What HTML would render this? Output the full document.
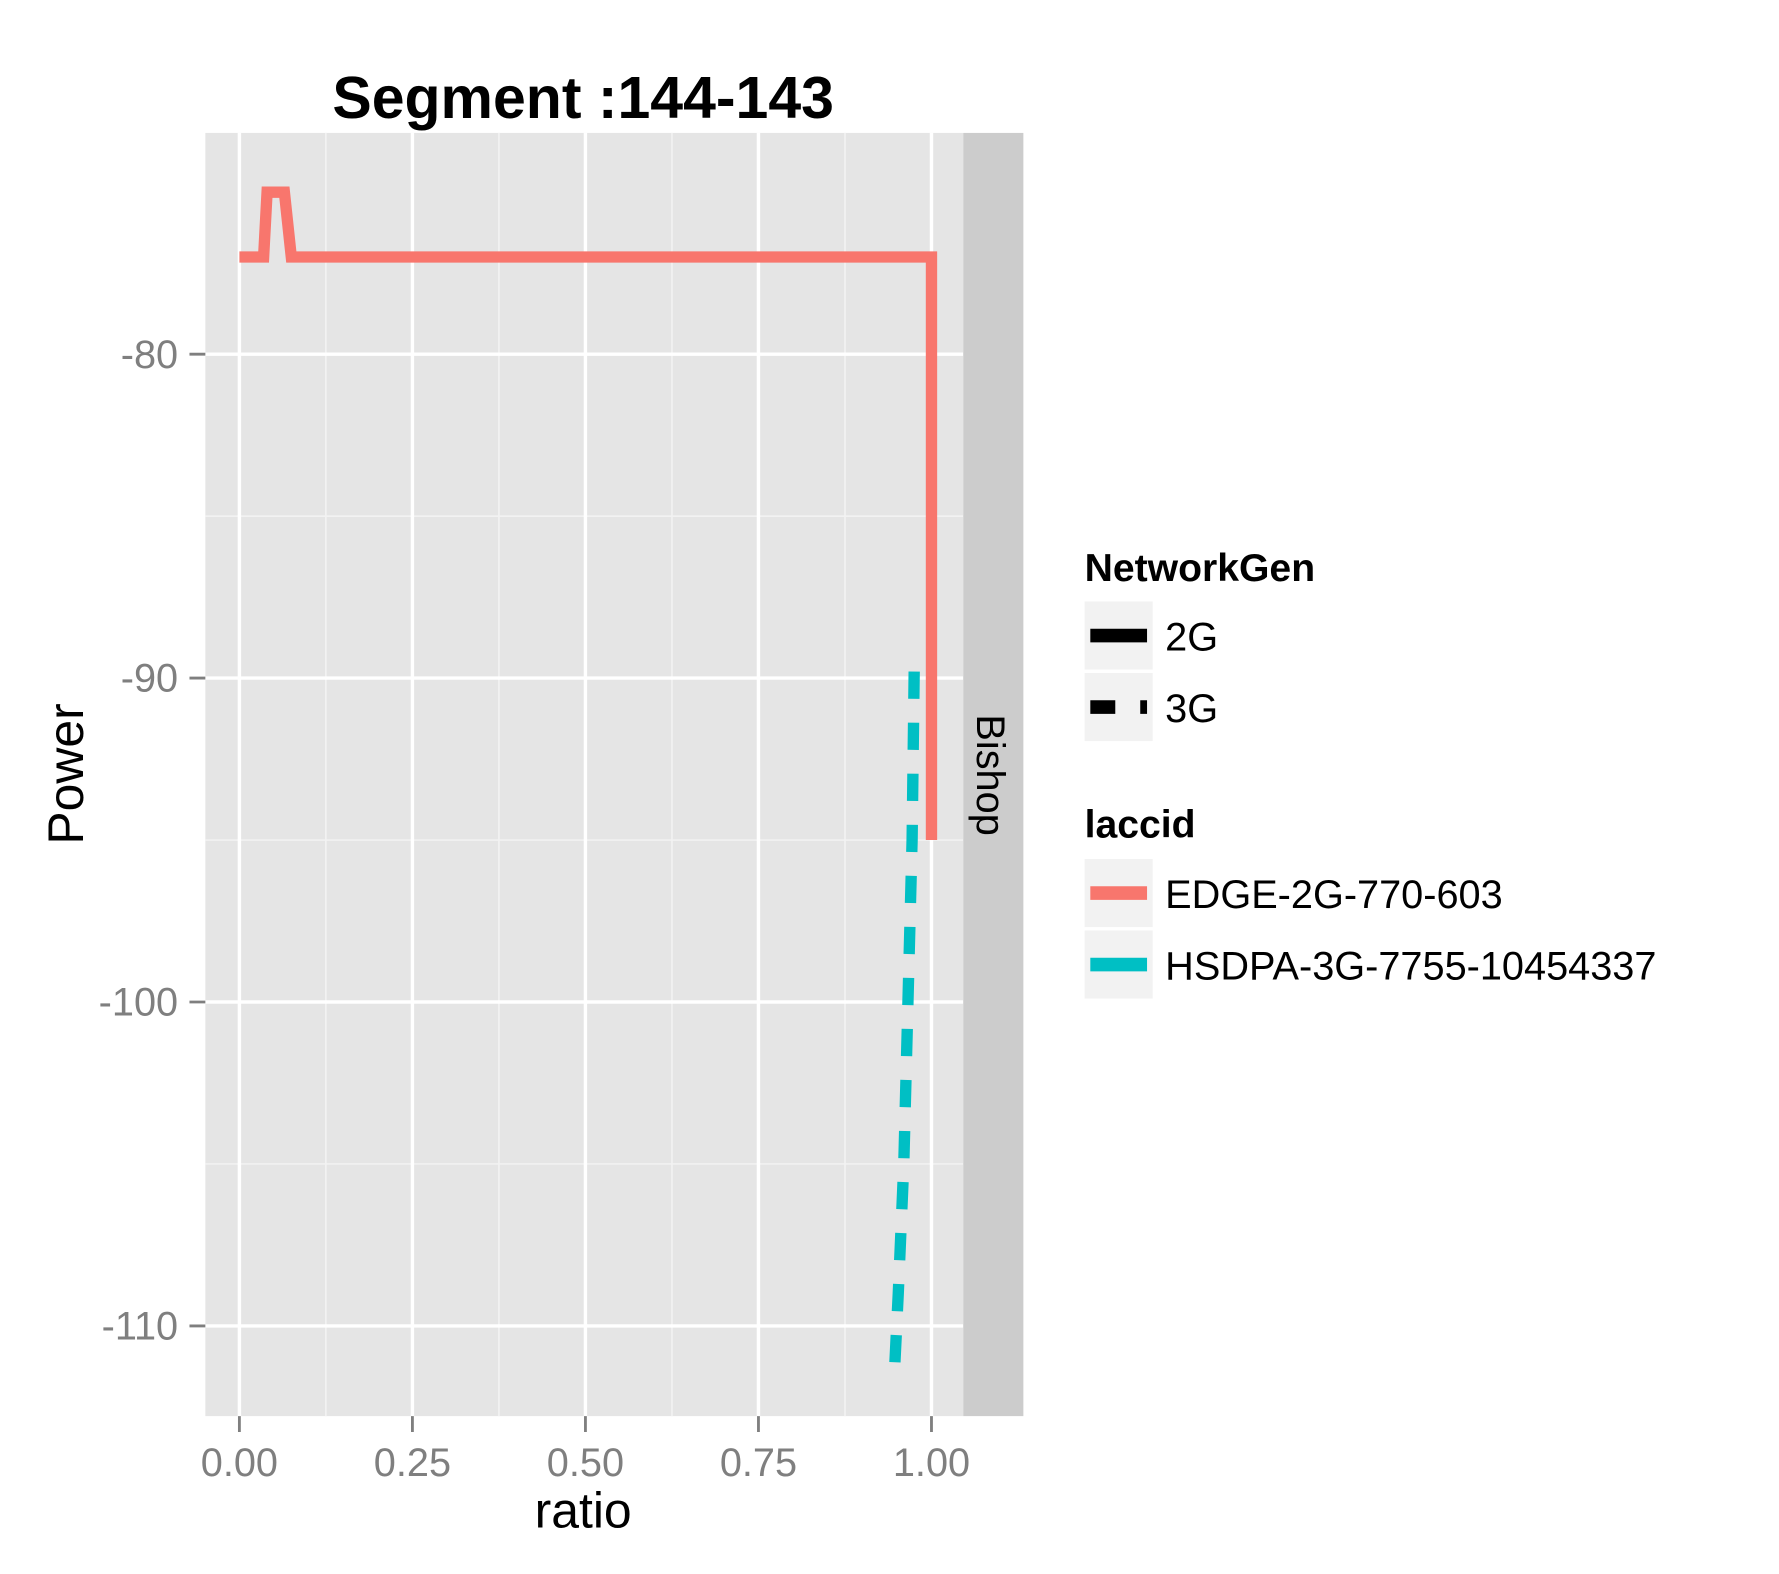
<!DOCTYPE html>
<html><head><meta charset="utf-8"><style>html,body{margin:0;padding:0;background:#fff}svg{display:block}text{font-family:"Liberation Sans",Arial,sans-serif}</style></head>
<body>
<svg id="chart" width="1779" height="1574" viewBox="0 0 1568 1387">
<rect width="1568" height="1387" fill="#fff"/>
<text x="514" y="104" text-anchor="middle" font-size="52" font-weight="bold">Segment :144-143</text>
<rect x="181" y="117" width="668" height="1131" fill="#e5e5e5"/>
<g id="grid"></g>
<rect x="849" y="117" width="53" height="1131" fill="#cccccc"/>
<text transform="translate(861,683) rotate(90)" text-anchor="middle" font-size="35">Bishop</text>
<g id="series"></g>
<g id="axes"></g>
<text x="514" y="1346" text-anchor="middle" font-size="44">ratio</text>
<text transform="translate(73,682) rotate(-90)" text-anchor="middle" font-size="44">Power</text>
<g>
<text x="956" y="512" font-size="34.5" font-weight="bold">NetworkGen</text>
<rect x="956" y="530" width="60" height="60" fill="#f2f2f2"/>
<line x1="961" y1="560" x2="1011" y2="560" stroke="#000" stroke-width="12"/>
<text x="1027" y="573" font-size="35">2G</text>
<rect x="956" y="593" width="60" height="60" fill="#f2f2f2"/>
<line x1="961" y1="623" x2="1011" y2="623" stroke="#000" stroke-width="12" stroke-dasharray="22,22"/>
<text x="1027" y="636" font-size="35">3G</text>
</g>
<g>
<text x="956" y="738" font-size="34.5" font-weight="bold">laccid</text>
<rect x="956" y="757" width="60" height="60" fill="#f2f2f2"/>
<line x1="961" y1="787" x2="1011" y2="787" stroke="#F8766D" stroke-width="12"/>
<text x="1027" y="800" font-size="35">EDGE-2G-770-603</text>
<rect x="956" y="820" width="60" height="60" fill="#f2f2f2"/>
<line x1="961" y1="850" x2="1011" y2="850" stroke="#00BFC4" stroke-width="12"/>
<text x="1027" y="863" font-size="35">HSDPA-3G-7755-10454337</text>
</g>
</svg>
<script>
const xTicks = [0, 0.25, 0.5, 0.75, 1];
const xTickLabels = ["0.00", "0.25", "0.50", "0.75", "1.00"];
const yTicks = [-80, -90, -100, -110];
const yTickLabels = ["-80", "-90", "-100", "-110"];
const edgeX = [0, 0.035, 0.04, 0.065, 0.075, 1, 1];
const edgeY = [-77, -77, -75, -75, -77, -77, -95];
const hsdpaX = [0.975, 0.972, 0.966, 0.96, 0.952, 0.947];
const hsdpaY = [-89.8, -95, -100, -105, -109, -111.2];

const NS = "http://www.w3.org/2000/svg";
const sx = v => 211 + v * 610;
const sy = v => 312 - (v + 80) * 28.55;
function mk(tag, attrs, parent) { const e = document.createElementNS(NS, tag); for (const k in attrs) e.setAttribute(k, attrs[k]); parent.appendChild(e); return e; }
const grid = document.getElementById('grid'), axes = document.getElementById('axes'), series = document.getElementById('series');
for (let i = 0; i < xTicks.length - 1; i++) {
  const m = (xTicks[i] + xTicks[i + 1]) / 2;
  const l = mk('line', {x1: sx(m), x2: sx(m), y1: 117, y2: 1248, stroke: '#f2f2f2', 'stroke-width': 1.5}, grid);
  
  
}
for (let i = 0; i < yTicks.length - 1; i++) {
  const m = (yTicks[i] + yTicks[i + 1]) / 2;
  const l = mk('line', {x1: 181, x2: 849, y1: sy(m), y2: sy(m), stroke: '#f2f2f2', 'stroke-width': 1.5}, grid);
  
  
}
xTicks.forEach((t, i) => {
  const l = mk('line', {x1: sx(t), x2: sx(t), y1: 117, y2: 1248, stroke: '#fff', 'stroke-width': 3}, grid);
  
  
  const tk = mk('line', {x1: sx(t), x2: sx(t), y1: 1248, y2: 1262, stroke: '#7f7f7f', 'stroke-width': 2.5}, axes);
  
  
  const tx = mk('text', {x: sx(t), y: 1301, 'text-anchor': 'middle', 'font-size': 35, fill: '#7f7f7f'}, axes);
  tx.textContent = xTickLabels[i];
  
  
});
yTicks.forEach((t, i) => {
  const l = mk('line', {x1: 181, x2: 849, y1: sy(t), y2: sy(t), stroke: '#fff', 'stroke-width': 3}, grid);
  
  
  const tk = mk('line', {x1: 167, x2: 181, y1: sy(t), y2: sy(t), stroke: '#7f7f7f', 'stroke-width': 2.5}, axes);
  
  
  const tx = mk('text', {x: 157, y: sy(t) + 12, 'text-anchor': 'end', 'font-size': 35, fill: '#7f7f7f'}, axes);
  tx.textContent = yTickLabels[i];
  
  
});
const edge = mk('polyline', {points: edgeX.map((x, i) => sx(x) + ',' + sy(edgeY[i])).join(' '), fill: 'none', stroke: '#F8766D', 'stroke-width': 10}, series);


const hs = mk('polyline', {points: hsdpaX.map((x, i) => sx(x) + ',' + sy(hsdpaY[i])).join(' '), fill: 'none', stroke: '#00BFC4', 'stroke-width': 10, 'stroke-dasharray': '24,21'}, series);


</script>
</body></html>
